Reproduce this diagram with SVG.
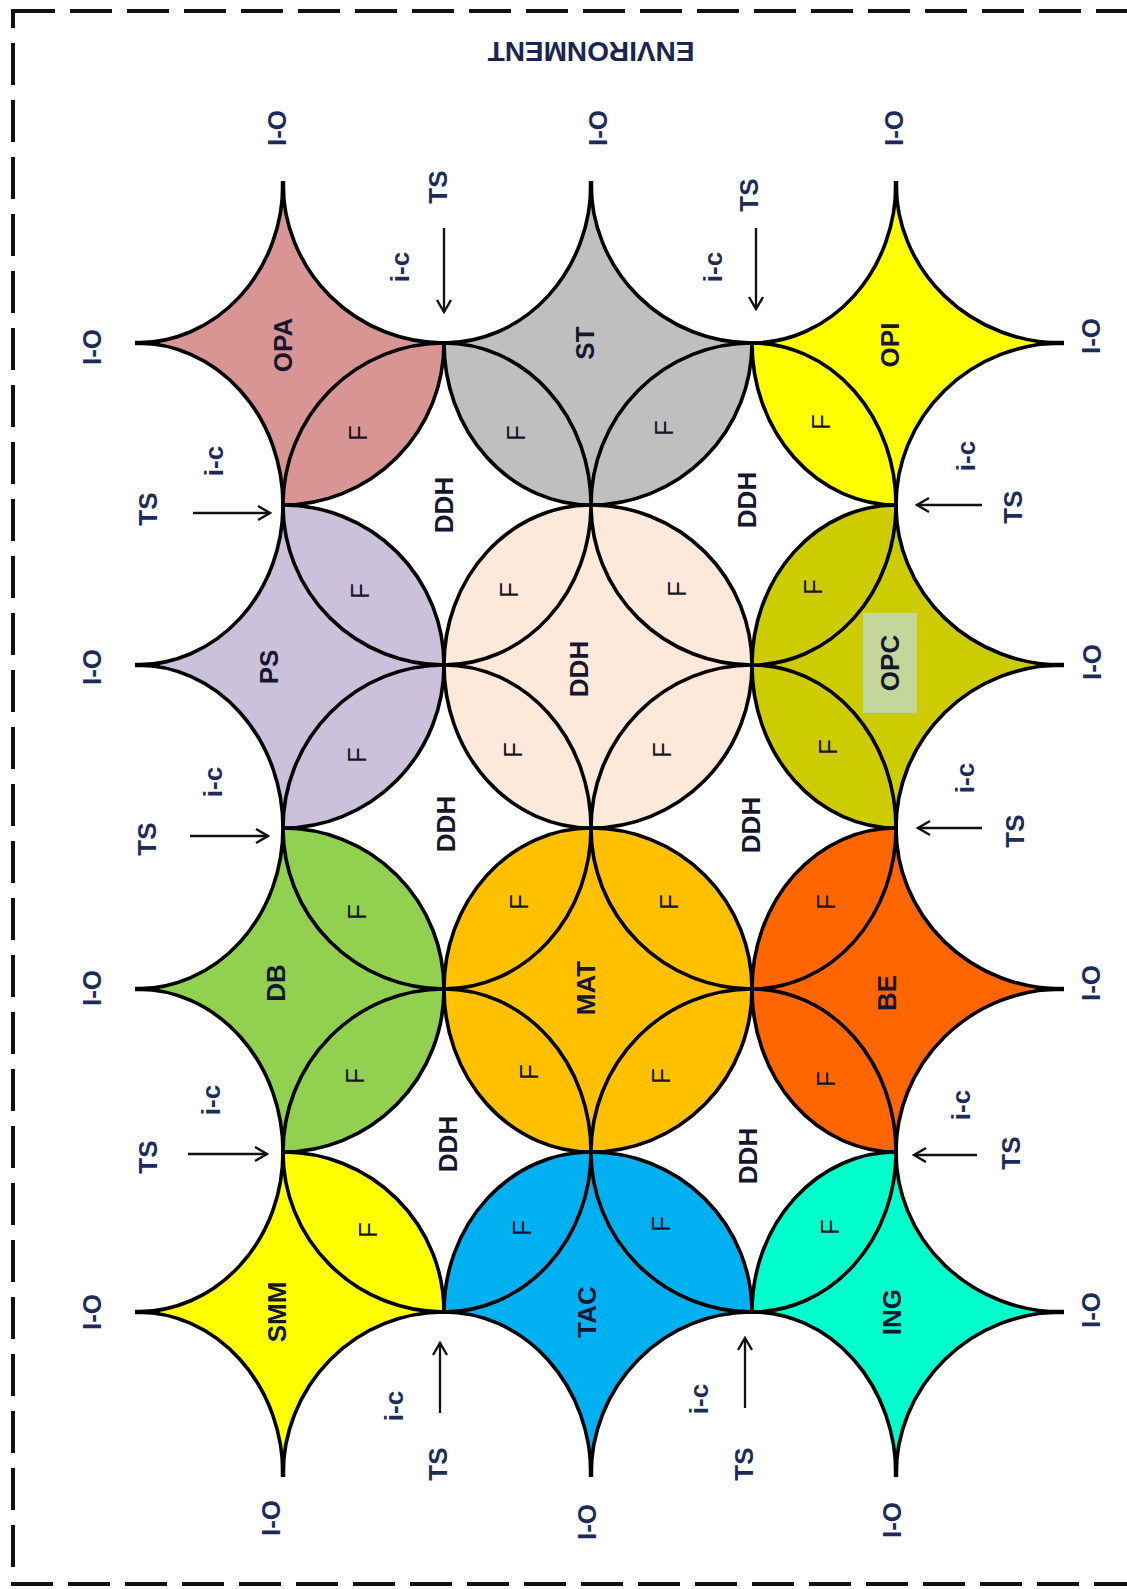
<svg xmlns="http://www.w3.org/2000/svg" width="1127" height="1589" viewBox="0 0 1127 1589">
<style>
.cell{stroke:#000;stroke-width:3.6;stroke-linejoin:round}
.inner{fill:none;stroke:#000;stroke-width:3.6}
.tail{fill:none;stroke:#000;stroke-width:4.5;stroke-linecap:butt}
.lbl{font-family:"Liberation Sans",Arial,sans-serif;font-weight:bold;font-size:26px;fill:#16162e;text-anchor:middle;dominant-baseline:central}
.f{font-family:"Liberation Sans",Arial,sans-serif;font-size:26px;fill:#161626;text-anchor:middle;dominant-baseline:central}
.io{font-family:"Liberation Sans",Arial,sans-serif;font-weight:bold;font-size:26px;fill:#1c2c5a;text-anchor:middle;dominant-baseline:central}
.arr{stroke:#111;stroke-width:2.3;fill:none;marker-end:url(#ah)}
</style>
<defs>
<marker id="ah" markerUnits="userSpaceOnUse" markerWidth="18" markerHeight="18" viewBox="0 0 18 18" refX="16" refY="9" orient="auto">
<path d="M4,2 L16,9 L4,16" fill="none" stroke="#111" stroke-width="2.4"/>
</marker>
</defs>
<rect width="1127" height="1589" fill="#fff"/>
<rect x="13" y="11" width="1200" height="1573" fill="none" stroke="#111" stroke-width="4" stroke-dasharray="42 15"/>
<text class="io" transform="rotate(180 591 51)" x="591" y="51" style="font-size:28px;fill:#1a2650">ENVIRONMENT</text>

<g id="OPA">
<path class="cell" fill="#d99594" d="M283,183 A161,160 0 0 0 444,343 A161,162 0 0 1 283,505 A146,162 0 0 0 137,343 A146,160 0 0 0 283,183Z"/>
<path class="inner" d="M444,343 A161,162 0 0 0 283,505"/>
<path class="tail" d="M283,181 V207 M135,343 H160"/>
<text class="lbl" x="283" y="345" transform="rotate(-90 283 345)">OPA</text>
<text class="f" x="358" y="433" transform="rotate(-90 358 433)">F</text>
</g>
<g id="ST">
<path class="cell" fill="#bfbfbf" d="M591,183 A161,160 0 0 0 752,343 A161,162 0 0 1 591,505 A147,162 0 0 1 444,343 A147,160 0 0 0 591,183Z"/>
<path class="inner" d="M752,343 A161,162 0 0 0 591,505 M591,505 A147,162 0 0 0 444,343"/>
<path class="tail" d="M591,181 V207"/>
<text class="lbl" x="585" y="343" transform="rotate(-90 585 343)">ST</text>
<text class="f" x="516" y="433" transform="rotate(-90 516 433)">F</text>
<text class="f" x="664" y="428" transform="rotate(-90 664 428)">F</text>
</g>
<g id="OPI">
<path class="cell" fill="#ffff00" d="M896,183 A166,160 0 0 0 1062,343 A166,162 0 0 0 896,505 A144,162 0 0 1 752,343 A144,160 0 0 0 896,183Z"/>
<path class="inner" d="M896,505 A144,162 0 0 0 752,343"/>
<path class="tail" d="M896,181 V207 M1064,343 H1038"/>
<text class="lbl" x="890" y="345" transform="rotate(-90 890 345)">OPI</text>
<text class="f" x="821" y="422" transform="rotate(-90 821 422)">F</text>
</g>
<g id="PS">
<path class="cell" fill="#ccc1da" d="M283,505 A161,160 0 0 1 444,665 A161,163 0 0 1 283,828 A146,163 0 0 0 137,665 A146,160 0 0 0 283,505Z"/>
<path class="inner" d="M283,505 A161,160 0 0 0 444,665 M444,665 A161,163 0 0 0 283,828"/>
<path class="tail" d="M135,665 H160"/>
<text class="lbl" x="269" y="667" transform="rotate(-90 269 667)">PS</text>
<text class="f" x="360" y="591" transform="rotate(-90 360 591)">F</text>
<text class="f" x="357" y="755" transform="rotate(-90 357 755)">F</text>
</g>
<g id="DDH">
<path class="cell" fill="#fde9d9" d="M591,505 A161,160 0 0 1 752,665 A161,163 0 0 1 591,828 A147,163 0 0 1 444,665 A147,160 0 0 1 591,505Z"/>
<path class="inner" d="M591,505 A161,160 0 0 0 752,665 M752,665 A161,163 0 0 0 591,828 M591,828 A147,163 0 0 0 444,665 M444,665 A147,160 0 0 0 591,505"/>
<text class="lbl" x="579" y="669" transform="rotate(-90 579 669)">DDH</text>
<text class="f" x="509" y="590" transform="rotate(-90 509 590)">F</text>
<text class="f" x="677" y="589" transform="rotate(-90 677 589)">F</text>
<text class="f" x="513" y="750" transform="rotate(-90 513 750)">F</text>
<text class="f" x="662" y="750" transform="rotate(-90 662 750)">F</text>
</g>
<g id="OPC">
<path class="cell" fill="#cccc00" d="M896,505 A166,160 0 0 0 1062,665 A166,163 0 0 0 896,828 A144,163 0 0 1 752,665 A144,160 0 0 1 896,505Z"/>
<path class="inner" d="M896,828 A144,163 0 0 0 752,665 M752,665 A144,160 0 0 0 896,505"/>
<path class="tail" d="M1064,665 H1038"/>
<rect x="863" y="613" width="54" height="100" fill="#c4d79b"/>
<text class="lbl" x="890" y="663" transform="rotate(-90 890 663)">OPC</text>
<text class="f" x="813" y="587" transform="rotate(-90 813 587)">F</text>
<text class="f" x="828" y="747" transform="rotate(-90 828 747)">F</text>
</g>
<g id="DB">
<path class="cell" fill="#92d050" d="M283,828 A161,161 0 0 1 444,989 A161,163 0 0 1 283,1152 A146,163 0 0 0 137,989 A146,161 0 0 0 283,828Z"/>
<path class="inner" d="M283,828 A161,161 0 0 0 444,989 M444,989 A161,163 0 0 0 283,1152"/>
<path class="tail" d="M135,989 H160"/>
<text class="lbl" x="276" y="983" transform="rotate(-90 276 983)">DB</text>
<text class="f" x="357" y="912" transform="rotate(-90 357 912)">F</text>
<text class="f" x="355" y="1076" transform="rotate(-90 355 1076)">F</text>
</g>
<g id="MAT">
<path class="cell" fill="#ffc000" d="M591,828 A161,161 0 0 1 752,989 A161,163 0 0 1 591,1152 A147,163 0 0 1 444,989 A147,161 0 0 1 591,828Z"/>
<path class="inner" d="M591,828 A161,161 0 0 0 752,989 M752,989 A161,163 0 0 0 591,1152 M591,1152 A147,163 0 0 0 444,989 M444,989 A147,161 0 0 0 591,828"/>
<text class="lbl" x="586" y="988" transform="rotate(-90 586 988)">MAT</text>
<text class="f" x="519" y="902" transform="rotate(-90 519 902)">F</text>
<text class="f" x="669" y="902" transform="rotate(-90 669 902)">F</text>
<text class="f" x="529" y="1072" transform="rotate(-90 529 1072)">F</text>
<text class="f" x="661" y="1076" transform="rotate(-90 661 1076)">F</text>
</g>
<g id="BE">
<path class="cell" fill="#ff6600" d="M896,828 A166,161 0 0 0 1062,989 A166,163 0 0 0 896,1152 A144,163 0 0 1 752,989 A144,161 0 0 1 896,828Z"/>
<path class="inner" d="M896,1152 A144,163 0 0 0 752,989 M752,989 A144,161 0 0 0 896,828"/>
<path class="tail" d="M1064,989 H1038"/>
<text class="lbl" x="887" y="993" transform="rotate(-90 887 993)">BE</text>
<text class="f" x="826" y="902" transform="rotate(-90 826 902)">F</text>
<text class="f" x="826" y="1079" transform="rotate(-90 826 1079)">F</text>
</g>
<g id="SMM">
<path class="cell" fill="#ffff00" d="M283,1152 A161,160 0 0 1 444,1312 A161,163 0 0 0 283,1475 A146,163 0 0 0 137,1312 A146,160 0 0 0 283,1152Z"/>
<path class="inner" d="M283,1152 A161,160 0 0 0 444,1312"/>
<path class="tail" d="M135,1312 H160 M283,1477 V1451"/>
<text class="lbl" x="277" y="1312" transform="rotate(-90 277 1312)">SMM</text>
<text class="f" x="368" y="1230" transform="rotate(-90 368 1230)">F</text>
</g>
<g id="TAC">
<path class="cell" fill="#00b0f0" d="M591,1152 A161,160 0 0 1 752,1312 A161,163 0 0 0 591,1475 A147,163 0 0 0 444,1312 A147,160 0 0 1 591,1152Z"/>
<path class="inner" d="M591,1152 A161,160 0 0 0 752,1312 M444,1312 A147,160 0 0 0 591,1152"/>
<path class="tail" d="M591,1477 V1451"/>
<text class="lbl" x="587" y="1312" transform="rotate(-90 587 1312)">TAC</text>
<text class="f" x="522" y="1228" transform="rotate(-90 522 1228)">F</text>
<text class="f" x="661" y="1224" transform="rotate(-90 661 1224)">F</text>
</g>
<g id="ING">
<path class="cell" fill="#00ffcc" d="M896,1152 A166,160 0 0 0 1062,1312 A166,163 0 0 0 896,1475 A144,163 0 0 0 752,1312 A144,160 0 0 1 896,1152Z"/>
<path class="inner" d="M752,1312 A144,160 0 0 0 896,1152"/>
<path class="tail" d="M1064,1312 H1038 M896,1477 V1451"/>
<text class="lbl" x="892" y="1312" transform="rotate(-90 892 1312)">ING</text>
<text class="f" x="830" y="1227" transform="rotate(-90 830 1227)">F</text>
</g>

<g id="ddh-gaps">
<text class="lbl" x="444" y="505" transform="rotate(-90 444 505)">DDH</text>
<text class="lbl" x="747" y="500" transform="rotate(-90 747 500)">DDH</text>
<text class="lbl" x="446" y="824" transform="rotate(-90 446 824)">DDH</text>
<text class="lbl" x="751" y="825" transform="rotate(-90 751 825)">DDH</text>
<text class="lbl" x="448" y="1144" transform="rotate(-90 448 1144)">DDH</text>
<text class="lbl" x="748" y="1156" transform="rotate(-90 748 1156)">DDH</text>
</g>

<g id="connectors">
<line class="arr" x1="444" y1="228" x2="444" y2="312"/>
<line class="arr" x1="756" y1="228" x2="756" y2="309"/>
<line class="arr" x1="193" y1="513" x2="270" y2="513"/>
<line class="arr" x1="190" y1="836" x2="268" y2="836"/>
<line class="arr" x1="188" y1="1154" x2="267" y2="1154"/>
<line class="arr" x1="982" y1="505" x2="917" y2="505"/>
<line class="arr" x1="982" y1="828" x2="918" y2="828"/>
<line class="arr" x1="977" y1="1155" x2="914" y2="1155"/>
<line class="arr" x1="440" y1="1413" x2="440" y2="1343"/>
<line class="arr" x1="745" y1="1408" x2="745" y2="1338"/>
</g>

<g id="flow-labels">
<text class="io" x="438" y="187" transform="rotate(-90 438 187)">TS</text>
<text class="io" x="400" y="267" transform="rotate(-90 400 267)">i-c</text>
<text class="io" x="749" y="195" transform="rotate(-90 749 195)">TS</text>
<text class="io" x="713" y="267" transform="rotate(-90 713 267)">i-c</text>
<text class="io" x="148" y="509" transform="rotate(-90 148 509)">TS</text>
<text class="io" x="214" y="461" transform="rotate(-90 214 461)">i-c</text>
<text class="io" x="147" y="839" transform="rotate(-90 147 839)">TS</text>
<text class="io" x="213" y="782" transform="rotate(-90 213 782)">i-c</text>
<text class="io" x="148" y="1157" transform="rotate(-90 148 1157)">TS</text>
<text class="io" x="211" y="1100" transform="rotate(-90 211 1100)">i-c</text>
<text class="io" x="1013" y="507" transform="rotate(-90 1013 507)">TS</text>
<text class="io" x="966" y="456" transform="rotate(-90 966 456)">i-c</text>
<text class="io" x="1015" y="831" transform="rotate(-90 1015 831)">TS</text>
<text class="io" x="965" y="778" transform="rotate(-90 965 778)">i-c</text>
<text class="io" x="1011" y="1153" transform="rotate(-90 1011 1153)">TS</text>
<text class="io" x="961" y="1105" transform="rotate(-90 961 1105)">i-c</text>
<text class="io" x="394" y="1406" transform="rotate(-90 394 1406)">i-c</text>
<text class="io" x="438" y="1464" transform="rotate(-90 438 1464)">TS</text>
<text class="io" x="699" y="1399" transform="rotate(-90 699 1399)">i-c</text>
<text class="io" x="744" y="1464" transform="rotate(-90 744 1464)">TS</text>
</g>

<g id="io-labels">
<text class="io" x="277" y="128" transform="rotate(-90 277 128)">I-O</text>
<text class="io" x="598" y="128" transform="rotate(-90 598 128)">I-O</text>
<text class="io" x="894" y="128" transform="rotate(-90 894 128)">I-O</text>
<text class="io" x="92" y="347" transform="rotate(-90 92 347)">I-O</text>
<text class="io" x="92" y="667" transform="rotate(-90 92 667)">I-O</text>
<text class="io" x="92" y="988" transform="rotate(-90 92 988)">I-O</text>
<text class="io" x="92" y="1312" transform="rotate(-90 92 1312)">I-O</text>
<text class="io" x="1091" y="336" transform="rotate(-90 1091 336)">I-O</text>
<text class="io" x="1092" y="662" transform="rotate(-90 1092 662)">I-O</text>
<text class="io" x="1091" y="983" transform="rotate(-90 1091 983)">I-O</text>
<text class="io" x="1091" y="1310" transform="rotate(-90 1091 1310)">I-O</text>
<text class="io" x="271" y="1518" transform="rotate(-90 271 1518)">I-O</text>
<text class="io" x="587" y="1522" transform="rotate(-90 587 1522)">I-O</text>
<text class="io" x="892" y="1520" transform="rotate(-90 892 1520)">I-O</text>
</g>
</svg>
